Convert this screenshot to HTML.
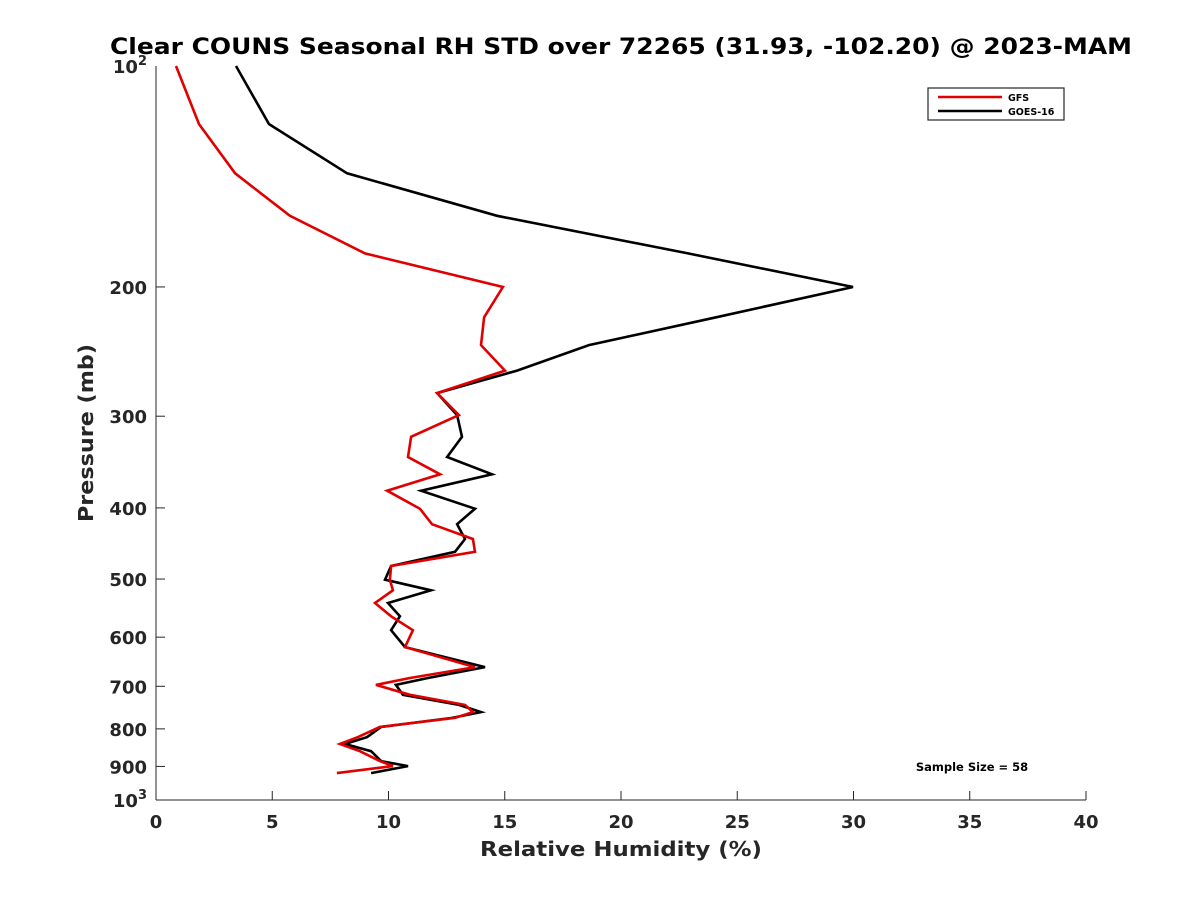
<!DOCTYPE html>
<html><head><meta charset="utf-8"><style>
body{margin:0;background:#fff;}
svg{display:block;font-family:"DejaVu Sans","Liberation Sans",sans-serif;font-weight:bold;}
</style></head><body>
<svg id="chart" width="1200" height="900"></svg>
<script>
const pressureLevels=[100,120,140,160,180,200,220,240,260,279,299,320,341,360,379,401,421,441,459,480,501,518,539,562,587,619,659,682,697,719,742,759,773,795,821,839,858,885,899,919];
const gfsValues=[0.86,1.85,3.40,5.76,8.99,14.92,14.11,13.98,15.01,12.09,13.03,10.97,10.84,12.22,9.94,11.35,11.87,13.63,13.72,10.11,10.06,10.19,9.42,10.11,11.05,10.71,13.72,10.92,9.46,10.92,13.29,13.63,12.86,9.63,8.69,7.91,8.77,9.63,10.19,7.78];
const goesValues=[3.44,4.86,8.22,14.67,22.88,29.98,24.09,18.62,15.53,12.09,12.95,13.16,12.52,14.45,11.40,13.72,12.95,13.29,12.86,10.11,9.85,11.83,9.98,10.49,10.11,10.71,14.15,11.70,10.32,10.62,13.03,13.98,12.73,9.68,9.08,8.13,9.25,9.68,10.84,9.25];
const xTicks=[0,5,10,15,20,25,30,35,40];
const yTicks=[200,300,400,500,600,700,800,900];

const svg=document.getElementById('chart');
const NS='http://www.w3.org/2000/svg';
const L=156,R=1086,T=66,B=800;
const xs=v=>L+(v-0)/40*(R-L);
const ys=p=>T+(Math.log10(p)-2)*(B-T);
function el(tag,attrs,txt){const e=document.createElementNS(NS,tag);for(const k in attrs)e.setAttribute(k,attrs[k]);if(txt!==undefined)e.textContent=txt;svg.appendChild(e);return e;}

let e;
e=el('line',{x1:L,y1:T,x2:L,y2:B,stroke:'#262626','stroke-width':1});


e=el('line',{x1:L,y1:B,x2:R,y2:B,stroke:'#262626','stroke-width':1});



xTicks.forEach(v=>{
  e=el('line',{x1:xs(v),y1:B,x2:xs(v),y2:B-9,stroke:'#262626'});
  
  
  e=el('text',{x:xs(v),y:B+28,'text-anchor':'middle','font-size':18,fill:'#262626'},String(v));
  
  
});
yTicks.forEach(p=>{
  e=el('line',{x1:L,y1:ys(p),x2:L+9,y2:ys(p),stroke:'#262626'});
  
  
  e=el('text',{x:L-9,y:ys(p)+7,'text-anchor':'end','font-size':18,fill:'#262626'},String(p));
  
  
});
[[100,'2'],[1000,'3']].forEach(([p,ex])=>{
  e=el('text',{x:L-9,y:ys(p)+7,'text-anchor':'end','font-size':18,fill:'#262626'});
  
  
  const t1=document.createElementNS(NS,'tspan');t1.textContent='10';e.appendChild(t1);
  const t2=document.createElementNS(NS,'tspan');t2.setAttribute('dy','-8');t2.setAttribute('font-size','13');t2.textContent=ex;e.appendChild(t2);
});

function series(vals,color,name){
  const pts=vals.map((v,i)=>xs(v).toFixed(1)+','+ys(pressureLevels[i]).toFixed(1)).join(' ');
  const s=el('polyline',{points:pts,fill:'none',stroke:color,'stroke-width':2.6,'stroke-linejoin':'miter'});
  
  
}
series(goesValues,'#000','goes16-line');
series(gfsValues,'#e00000','gfs-line');

e=el('text',{x:110,y:54,'font-size':22,fill:'#000',textLength:1022,lengthAdjust:'spacingAndGlyphs'},'Clear COUNS Seasonal RH STD over 72265 (31.93, -102.20) @ 2023-MAM');


e=el('text',{x:480,y:856,'font-size':20,fill:'#262626',textLength:282,lengthAdjust:'spacingAndGlyphs'},'Relative Humidity (%)');


e=el('text',{x:0,y:0,'font-size':20,fill:'#262626',textLength:178,lengthAdjust:'spacingAndGlyphs',transform:'translate(93,522) rotate(-90)'},'Pressure (mb)');


e=el('text',{x:972,y:771,'text-anchor':'middle','font-size':11.5,fill:'#000'},'Sample Size = 58');



e=el('rect',{x:928,y:88,width:136,height:32,fill:'#fff',stroke:'#262626','stroke-width':1.2});


e=el('line',{x1:938,y1:97,x2:1002,y2:97,stroke:'#e00000','stroke-width':2.6});


e=el('text',{x:1008,y:101,'font-size':9.5,fill:'#000'},'GFS');


e=el('line',{x1:938,y1:111,x2:1002,y2:111,stroke:'#000','stroke-width':2.6});


e=el('text',{x:1008,y:115,'font-size':9.5,fill:'#000'},'GOES-16');


</script>
</body></html>
